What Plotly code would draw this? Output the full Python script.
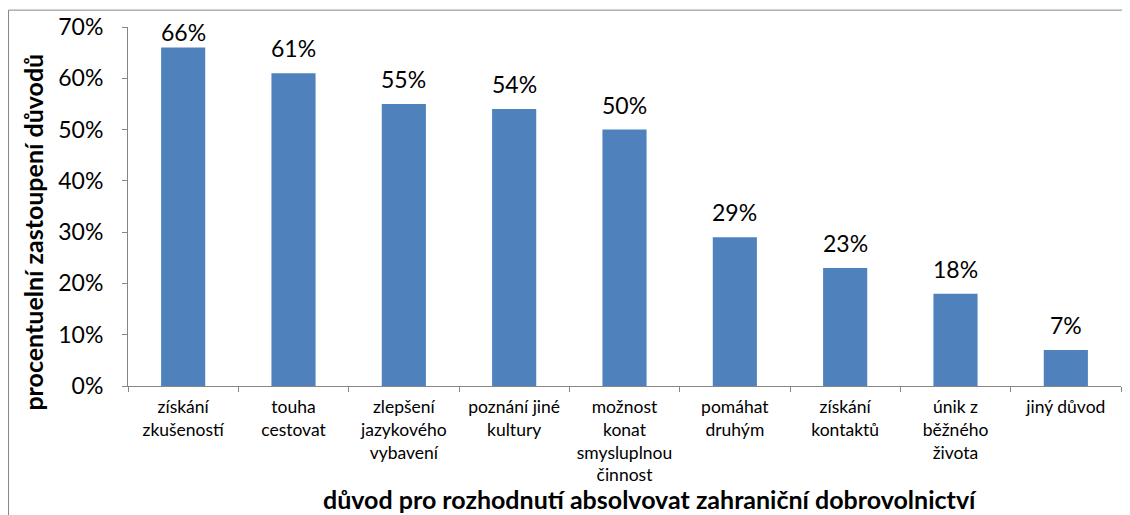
import plotly.graph_objects as go

categories = ["získání<br>zkušeností", "touha<br>cestovat", "zlepšení<br>jazykového<br>vybavení",
              "poznání jiné<br>kultury", "možnost<br>konat<br>smysluplnou<br>činnost", "pomáhat<br>druhým",
              "získání<br>kontaktů", "únik z<br>běžného<br>života", "jiný důvod"]
values = [0.66, 0.61, 0.55, 0.54, 0.50, 0.29, 0.23, 0.18, 0.07]
labels = ["66%", "61%", "55%", "54%", "50%", "29%", "23%", "18%", "7%"]

font = "Lato, 'Open Sans', sans-serif"
axis_grey = "#868686"

fig = go.Figure(go.Bar(x=categories, y=values,
                       marker=dict(color="#4F81BD", line=dict(width=0))))

fig.update_layout(
    width=1130, height=515,
    margin=dict(l=120, r=17, t=19, b=137),
    paper_bgcolor="white", plot_bgcolor="white",
    bargap=0.6, showlegend=False,
    font=dict(family=font, color="black"),
)
fig.update_yaxes(range=[0, 0.7], dtick=0.1, tickformat=".0%", showgrid=False,
                 showline=True, linecolor=axis_grey, linewidth=1, automargin=False,
                 ticks="outside", ticklen=5, tickcolor=axis_grey, ticklabelstandoff=14,
                 tickfont=dict(size=23, family=font))
fig.update_xaxes(showline=True, linecolor=axis_grey, linewidth=1, showgrid=False, automargin=False,
                 ticks="outside", ticklen=5, tickcolor=axis_grey, tickson="boundaries",
                 ticklabelstandoff=5, tickangle=0, tickfont=dict(size=17.5, family=font))

# data labels above the bars (kept inside the plot area like Excel does)
for cat, val, lab in zip(categories, values, labels):
    fig.add_annotation(x=cat, y=val, text=lab, showarrow=False, yanchor="bottom",
                       yshift=9 if val <= 0.63 else 0,
                       font=dict(size=23, family=font, color="black"))

# axis titles
fig.add_annotation(text="<b>procentuelní zastoupení důvodů</b>", xref="paper", yref="paper",
                   x=-0.0957, y=0.43, textangle=-90, showarrow=False, xanchor="center", yanchor="middle",
                   font=dict(size=25, family=font))
fig.add_annotation(text="<b>důvod pro rozhodnutí absolvovat zahraniční dobrovolnictví</b>",
                   xref="paper", yref="paper", x=0.5257, y=-0.3146, showarrow=False,
                   xanchor="center", yanchor="middle", font=dict(size=25, family=font))

# chart frame (top and left edges visible)
fig.add_shape(type="line", xref="paper", yref="paper", x0=-0.1203, x1=1.1, y0=1.047, y1=1.047,
              line=dict(color=axis_grey, width=1))
fig.add_shape(type="line", xref="paper", yref="paper", x0=-0.1203, x1=-0.1203, y0=1.047, y1=-0.5,
              line=dict(color=axis_grey, width=1))

fig.write_html("out.html")
